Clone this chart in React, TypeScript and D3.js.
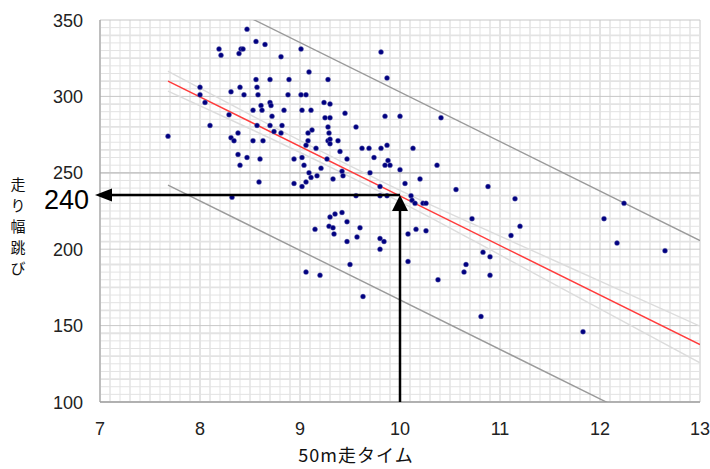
import React, { useEffect, useRef } from "react";
import * as d3 from "d3";

// 50m走タイム (s) と 走り幅跳び (cm)
const timeValues = [
  8.47, 8.56, 8.65, 8.19, 8.41, 8.43, 8.21, 8.39, 8.81, 8.56, 8.7, 8.89, 8.0, 8.4, 8.57, 8.31,
  8.44, 8.58, 8.88, 8.0, 8.05, 8.7, 8.71, 8.61, 8.53, 8.62, 8.84, 8.29, 8.72, 9.01, 9.81, 9.09,
  9.28, 9.87, 9.01, 9.06, 9.24, 9.3, 9.02, 9.11, 9.45, 9.25, 9.3, 9.85, 10.0, 10.41, 9.12, 9.08,
  9.28, 9.56, 9.29, 9.08, 9.28, 9.3, 9.38, 9.3, 9.06, 9.16, 9.4, 9.62, 9.69, 9.81, 9.87, 10.13,
  8.94, 9.02, 9.27, 9.47, 9.74, 9.88, 9.85, 9.9, 10.37, 9.04, 9.21, 9.09, 9.42, 9.43, 9.17, 9.11,
  9.33, 9.7, 10.0, 9.06, 8.94, 9.02, 10.05, 10.2, 9.8, 9.56, 9.8, 9.87, 10.11, 10.12, 10.15, 10.23,
  10.26, 8.1, 7.68, 8.38, 8.31, 8.34, 8.53, 8.63, 8.57, 8.7, 8.82, 8.74, 8.81, 8.38, 8.47, 8.6,
  8.4, 8.59, 8.32, 9.3, 9.35, 9.42, 9.47, 9.15, 9.29, 9.33, 9.34, 9.6, 9.47, 9.57, 9.8, 9.84,
  9.8, 9.06, 9.2, 9.5, 9.63, 10.56, 10.88, 10.72, 10.08, 10.16, 10.26, 10.08, 10.38, 10.83, 10.9, 10.66,
  10.64, 10.9, 11.15, 11.2, 11.11, 10.81, 11.83, 12.04, 12.24, 12.17, 12.65,
];
const jumpValues = [
  344, 336, 334, 331, 331, 331, 327, 328, 326, 311, 311, 311, 306, 306, 306, 303,
  301, 301, 301, 301, 296, 296, 294, 294, 291, 291, 291, 288, 287, 331, 329, 316,
  311, 312, 301, 301, 296, 295, 291, 291, 289, 286, 286, 287, 287, 286, 278, 276,
  280, 280, 276, 271, 271, 272, 271, 269, 268, 266, 264, 266, 266, 266, 268, 266,
  259, 260, 259, 259, 260, 258, 255, 255, 255, 255, 253, 250, 251, 248, 248, 247,
  246, 250, 252, 244, 243, 241, 243, 246, 241, 235, 235, 235, 235, 232, 230, 230,
  230, 281, 274, 276, 273, 271, 271, 271, 281, 281, 281, 277, 276, 262, 260, 259,
  255, 244, 234, 221, 223, 224, 218, 213, 215, 214, 210, 214, 205, 208, 207, 205,
  200, 185, 183, 190, 169, 239, 241, 220, 210, 213, 212, 192, 180, 198, 195, 190,
  185, 183, 233, 215, 209, 156, 146, 220, 230, 204, 199,
];

// 回帰直線・予測区間・信頼区間
const regressionX = [7.68, 13];
const regressionY = [310, 137.6];
const predictionUpperY = [378, 205.6];
const predictionLowerY = [242, 69.6];
const confidenceX = [7.68, 8.5, 9.4, 10.2, 11, 12, 13];
const confidenceHalf = [6.5, 4.6, 3.6, 4.0, 6.2, 9.1, 12];

const xTicks = [7, 8, 9, 10, 11, 12, 13];
const yTicks = [100, 150, 200, 250, 300, 350];

const readX = 10;
const readY = 235.5;
const readLabel = "240";

export default function App() {
  const ref = useRef<SVGSVGElement>(null);
  const width = 710;
  const height = 469;

  useEffect(() => {
    const svg = d3.select(ref.current);
    svg.selectAll("*").remove();

    const x = d3.scaleLinear().domain([7, 13]).range([100, 700]);
    const y = d3.scaleLinear().domain([100, 350]).range([402, 20]);
    const font = "'Liberation Sans', Arial, sans-serif";

    svg.append("rect").attr("width", width).attr("height", height).attr("fill", "white");

    // grid
    const g = svg.append("g");
    const minorX = d3.range(70, 131).map((d) => d / 10);
    const minorY = d3.range(20, 71).map((d) => d * 5);
    g.selectAll("line.vx")
      .data(minorX)
      .enter()
      .append("line")
      .attr("x1", (d) => x(d))
      .attr("x2", (d) => x(d))
      .attr("y1", y(350))
      .attr("y2", y(100))
      .attr("stroke", (d) => (Math.abs(d - Math.round(d)) < 1e-6 ? "#c8c8c8" : "#e3e3e3"))
      .attr("stroke-width", (_d, i) => (i % 2 === 0 ? 1 : 1.5));
    g.selectAll("line.hy")
      .data(minorY)
      .enter()
      .append("line")
      .attr("x1", x(7))
      .attr("x2", x(13))
      .attr("y1", (d) => y(d))
      .attr("y2", (d) => y(d))
      .attr("stroke", (d) => (d % 50 === 0 ? "#c8c8c8" : "#e3e3e3"))
      .attr("stroke-width", (_d, i) => (i % 3 === 0 ? 1.8 : 1));

    // axes lines
    svg.append("line").attr("x1", x(7)).attr("x2", x(7)).attr("y1", y(350)).attr("y2", y(100)).attr("stroke", "#999");
    svg.append("line").attr("x1", x(7)).attr("x2", x(13)).attr("y1", y(100)).attr("y2", y(100)).attr("stroke", "#999");

    svg.append("clipPath").attr("id", "plot").append("rect")
      .attr("x", x(7)).attr("y", y(350)).attr("width", x(13) - x(7)).attr("height", y(100) - y(350));
    const plot = svg.append("g").attr("clip-path", "url(#plot)");

    const line = d3.line<[number, number]>().x((d) => x(d[0])).y((d) => y(d[1]));
    const curve = d3.line<[number, number]>().x((d) => x(d[0])).y((d) => y(d[1])).curve(d3.curveMonotoneX);

    const regAt = d3.scaleLinear().domain(regressionX).range(regressionY);

    // prediction lines
    [predictionUpperY, predictionLowerY].forEach((ys) => {
      plot.append("path")
        .attr("d", line(regressionX.map((v, i) => [v, ys[i]] as [number, number])))
        .attr("fill", "none").attr("stroke", "#9a9a9a").attr("stroke-width", 1.4);
    });

    // confidence band
    [1, -1].forEach((s) => {
      plot.append("path")
        .attr("d", curve(confidenceX.map((v, i) => [v, regAt(v) + s * confidenceHalf[i]] as [number, number])))
        .attr("fill", "none").attr("stroke", "#dcdcdc").attr("stroke-width", 1.4);
    });

    // regression
    plot.append("path")
      .attr("d", line(regressionX.map((v, i) => [v, regressionY[i]] as [number, number])))
      .attr("fill", "none").attr("stroke", "#ff3b3b").attr("stroke-width", 1.5);

    // points
    plot.selectAll("circle")
      .data(timeValues.map((t, i) => [t, jumpValues[i]]))
      .enter()
      .append("circle")
      .attr("cx", (d) => x(d[0]))
      .attr("cy", (d) => y(d[1]))
      .attr("r", 2.5)
      .attr("fill", "#000080")
      .attr("stroke", "#7a7ab8")
      .attr("stroke-opacity", 0.5)
      .attr("stroke-width", 0.8);

    // tick labels
    svg.selectAll("text.xt")
      .data(xTicks)
      .enter()
      .append("text")
      .attr("x", (d) => x(d))
      .attr("y", 435)
      .attr("text-anchor", "middle")
      .style("font-family", font)
      .style("font-size", "18px")
      .style("fill", "#222")
      .text((d) => d);
    svg.selectAll("text.yt")
      .data(yTicks)
      .enter()
      .append("text")
      .attr("x", 83)
      .attr("y", (d) => y(d) + 6.5)
      .attr("text-anchor", "end")
      .style("font-family", font)
      .style("font-size", "18px")
      .style("fill", "#222")
      .text((d) => d);

    // axis titles
    svg.append("text")
      .attr("x", 356)
      .attr("y", 462)
      .attr("text-anchor", "middle")
      .style("font-family", "'Noto Sans CJK JP', sans-serif")
      .style("font-size", "18px")
      .style("letter-spacing", "1px")
      .style("fill", "#111")
      .text("50m走タイム");
    Array.from("走り幅跳び").forEach((c, i) => {
      svg.append("text")
        .attr("x", 18)
        .attr("y", 190 + i * 21)
        .attr("text-anchor", "middle")
        .style("font-family", "'Noto Sans CJK JP', sans-serif")
        .style("font-size", "15px")
        .style("fill", "#111")
        .text(c);
    });

    // reading arrows
    const ax = x(readX);
    const ay = y(readY);
    svg.append("line").attr("x1", ax).attr("x2", ax).attr("y1", y(100)).attr("y2", ay + 12)
      .attr("stroke", "black").attr("stroke-width", 2.5);
    svg.append("path").attr("d", `M${ax},${ay} L${ax - 8},${ay + 16} L${ax + 8},${ay + 16} Z`).attr("fill", "black");
    svg.append("line").attr("x1", ax).attr("x2", 106).attr("y1", ay).attr("y2", ay)
      .attr("stroke", "black").attr("stroke-width", 2.5);
    svg.append("path").attr("d", `M95,${ay} L112,${ay - 6.5} L112,${ay + 6.5} Z`).attr("fill", "black");
    svg.append("text")
      .attr("x", 89)
      .attr("y", ay + 14)
      .attr("text-anchor", "end")
      .style("font-family", font)
      .style("font-size", "27px")
      .style("fill", "black")
      .text(readLabel);
  }, []);

  return (
    <div style={{ position: "fixed", left: 0, top: 0 }}>
      <svg ref={ref} width={width} height={height}></svg>
    </div>
  );
}
